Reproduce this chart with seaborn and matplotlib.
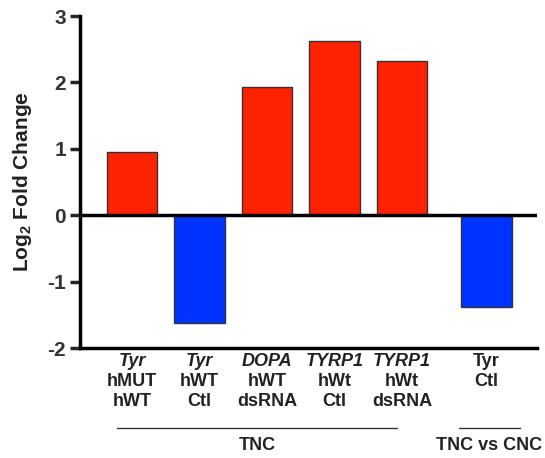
import matplotlib
matplotlib.use("Agg")
import matplotlib.pyplot as plt
import matplotlib.transforms as mtransforms
import seaborn as sns
import pandas as pd

# Data
positions = [0, 1, 2, 3, 4, 5.25]
fold_change = [0.96, -1.62, 1.93, 2.63, 2.33, -1.38]
gene = ["Tyr", "Tyr", "DOPA", "TYRP1", "TYRP1", "Tyr"]
gene_italic = [True, True, True, True, True, False]
cond1 = ["hMUT", "hWT", "hWT", "hWt", "hWt", "Ctl"]
cond2 = ["hWT", "Ctl", "dsRNA", "Ctl", "dsRNA", ""]
groups = ["TNC", "TNC vs CNC"]
group_span = [(-0.22, 3.93), (4.84, 5.75)]

df = pd.DataFrame({"pos": positions, "val": fold_change})
df["dir"] = ["up" if v > 0 else "down" for v in fold_change]

sns.set_style("white")
plt.rcParams["font.family"] = ["Liberation Sans", "DejaVu Sans"]
plt.rcParams["font.weight"] = "bold"
plt.rcParams["axes.unicode_minus"] = False
plt.rcParams["mathtext.fontset"] = "custom"
plt.rcParams["mathtext.rm"] = "Liberation Sans:bold"
plt.rcParams["mathtext.bf"] = "Liberation Sans:bold"

fig = plt.figure(figsize=(5.45, 4.58), dpi=100)
ax = fig.add_axes([0.147, 0.24, 0.838, 0.725])

sns.barplot(data=df, x="pos", y="val", hue="dir", native_scale=True,
            width=0.75, saturation=1, palette={"up": "#ff2200", "down": "#0033ff"},
            edgecolor="#333333", linewidth=1, legend=False, ax=ax)

ax.set_xlim(-0.77, 6.0)
ax.set_ylim(-2, 3)
ax.set_yticks([-2, -1, 0, 1, 2, 3])
ax.set_xticks([])
ax.axhline(0, color="black", lw=2.5, zorder=5)

for s in ["top", "right"]:
    ax.spines[s].set_visible(False)
for s in ["left", "bottom"]:
    ax.spines[s].set_linewidth(2.5)
    ax.spines[s].set_color("black")
ax.tick_params(axis="y", direction="out", length=7, width=2.5, left=True,
               labelsize=15, labelcolor="#333333", pad=3)
for lab in ax.get_yticklabels():
    lab.set_fontweight("bold")

ax.set_xlabel("")
ax.set_ylabel(r"Log$_2$ Fold Change", fontsize=15, fontweight="bold",
              color="#222222", labelpad=10)

trans = mtransforms.blended_transform_factory(ax.transData, fig.transFigure)
for x, g, it, c1, c2 in zip(positions, gene, gene_italic, cond1, cond2):
    ax.text(x, 1 - 362 / 458, g, transform=trans, ha="center", va="center",
            fontsize=13, fontweight="bold", style="italic" if it else "normal",
            color="#222222")
    ax.text(x, 1 - 382 / 458, c1, transform=trans, ha="center", va="center",
            fontsize=13, fontweight="bold", color="#222222")
    ax.text(x, 1 - 402 / 458, c2, transform=trans, ha="center", va="center",
            fontsize=13, fontweight="bold", color="#222222")

for name, (x0, x1) in zip(groups, group_span):
    ax.plot([x0, x1], [1 - 428 / 458] * 2, transform=trans, color="#333333",
            lw=1, clip_on=False)
    ax.text((x0 + x1) / 2, 1 - 445 / 458, name, transform=trans, ha="center",
            va="center", fontsize=13, fontweight="bold", color="#222222")

fig.savefig("out.png", dpi=100)
